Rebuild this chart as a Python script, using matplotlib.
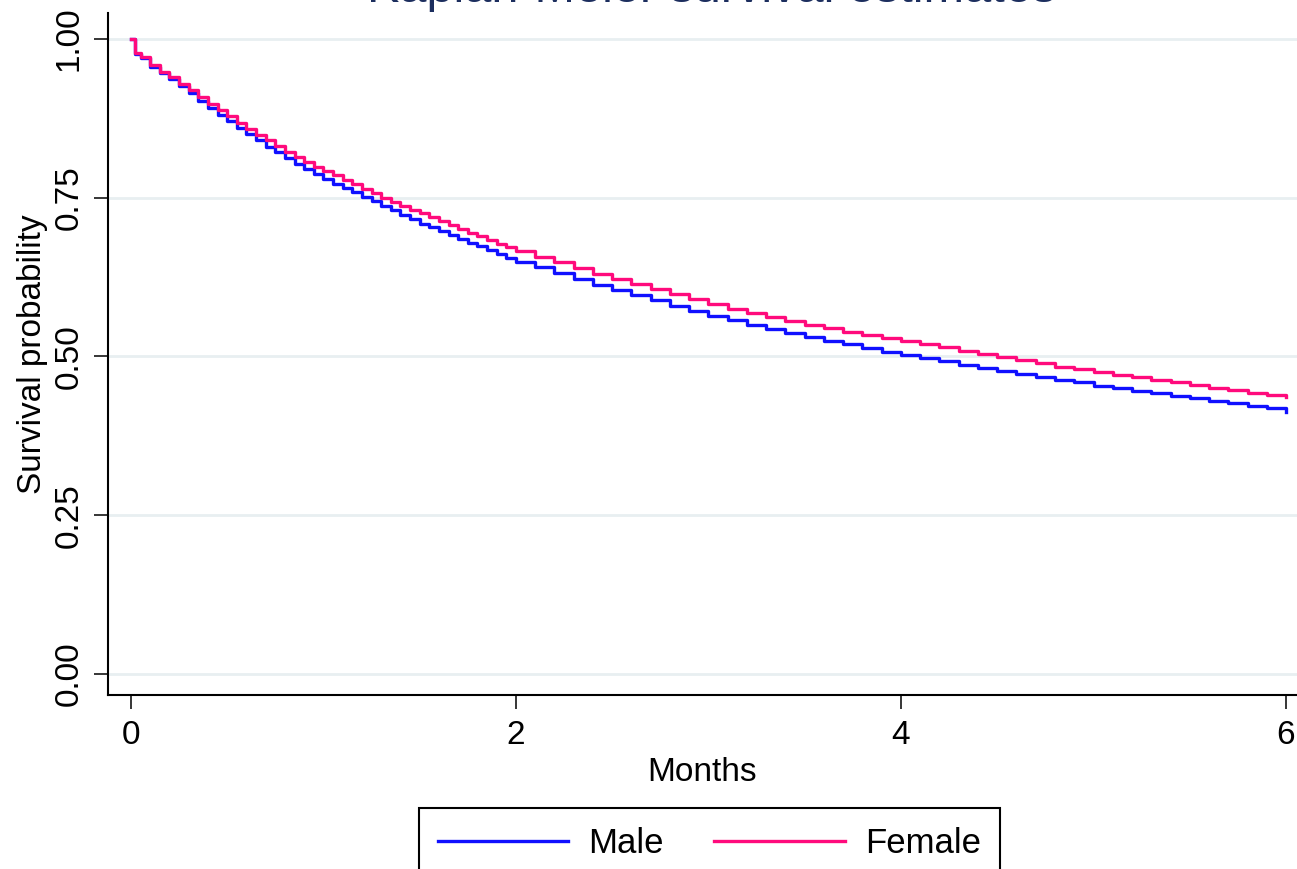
import numpy as np
import matplotlib
matplotlib.use("Agg")
import matplotlib.pyplot as plt

# time grid (months): fine at the start, coarser later
months = [0.0, 0.02] + [round(0.05 * i, 2) for i in range(1, 41)] + [round(2.0 + 0.1 * i, 1) for i in range(1, 41)]

male = [1.000, 0.976,
        0.970, 0.956, 0.946, 0.936, 0.926, 0.915, 0.902, 0.891, 0.880, 0.870,
        0.860, 0.850, 0.840, 0.830, 0.821, 0.812, 0.803, 0.795, 0.787, 0.779,
        0.772, 0.765, 0.758, 0.751, 0.744, 0.737, 0.730, 0.722, 0.716, 0.709,
        0.703, 0.697, 0.691, 0.685, 0.679, 0.673, 0.667, 0.661, 0.655, 0.649,
        0.640, 0.631, 0.622, 0.613, 0.605, 0.596, 0.588, 0.580, 0.572, 0.564,
        0.557, 0.550, 0.543, 0.537, 0.531, 0.525, 0.519, 0.513, 0.507, 0.502,
        0.497, 0.492, 0.487, 0.482, 0.477, 0.472, 0.468, 0.463, 0.459, 0.454,
        0.450, 0.446, 0.442, 0.438, 0.434, 0.430, 0.426, 0.422, 0.418, 0.413]

female = [1.000, 0.977,
          0.971, 0.958, 0.948, 0.939, 0.929, 0.919, 0.908, 0.898, 0.888, 0.878,
          0.868, 0.858, 0.849, 0.840, 0.831, 0.822, 0.814, 0.806, 0.798, 0.792,
          0.785, 0.778, 0.771, 0.764, 0.757, 0.750, 0.743, 0.737, 0.731, 0.725,
          0.719, 0.713, 0.707, 0.701, 0.695, 0.689, 0.683, 0.677, 0.672, 0.666,
          0.657, 0.648, 0.639, 0.630, 0.622, 0.614, 0.606, 0.598, 0.590, 0.582,
          0.575, 0.568, 0.562, 0.556, 0.550, 0.544, 0.539, 0.534, 0.529, 0.524,
          0.519, 0.514, 0.509, 0.504, 0.499, 0.494, 0.489, 0.484, 0.480, 0.475,
          0.471, 0.467, 0.463, 0.459, 0.455, 0.451, 0.447, 0.443, 0.439, 0.436]

x_ticks = [0, 2, 4, 6]
y_ticks = [0.0, 0.25, 0.5, 0.75, 1.0]
y_labels = ["0.00", "0.25", "0.50", "0.75", "1.00"]

plt.rcParams['font.family'] = ['Liberation Sans', 'DejaVu Sans']

fig = plt.figure(figsize=(12.97, 8.69), dpi=100)
ax = fig.add_axes([108 / 1297, 1 - 695 / 869, 1 - 108 / 1297, (695 - 12.7) / 869])

# horizontal grid
for y in y_ticks:
    ax.axhline(y, color='#e8eff1', lw=2, zorder=0)

ax.plot(months, male, drawstyle='steps-post', color='#1010ff', lw=2.4, label='Male')
ax.plot(months, female, drawstyle='steps-post', color='#ff0a7c', lw=2.4, label='Female')

ax.set_xlim(-0.119, 6.057)
ax.set_ylim(-0.033, 1.041)

ax.spines['top'].set_visible(False)
ax.spines['right'].set_visible(False)
for s in ['left', 'bottom']:
    ax.spines[s].set_linewidth(1.5)

ax.set_xticks(x_ticks)
ax.set_yticks(y_ticks)
ax.set_yticklabels(y_labels, rotation=90, va='center')
ax.tick_params(axis='both', labelsize=24, length=10, width=1.1, direction='out')
ax.tick_params(axis='x', pad=8)
ax.tick_params(axis='y', pad=7)

ax.set_xlabel("Months", fontsize=24, labelpad=4)
ax.set_ylabel("Survival probability", fontsize=24, labelpad=4)

# title sits mostly above the visible area, as in the reference
fig.text(0.549, 1 - 2.5 / 869, "Kaplan-Meier survival estimates", ha='center', va='baseline',
         fontsize=35, color='#1c2e5e')

leg = fig.legend(loc='upper center', bbox_to_anchor=(0.547, 1 - 808 / 869), ncol=2,
                 fontsize=25, handlelength=3.75, handletextpad=0.58, columnspacing=1.45,
                 borderpad=0.55, borderaxespad=0, fancybox=False, framealpha=1)
leg.get_frame().set_edgecolor('black')
leg.get_frame().set_linewidth(1.5)

fig.savefig("out.png", dpi=100)
